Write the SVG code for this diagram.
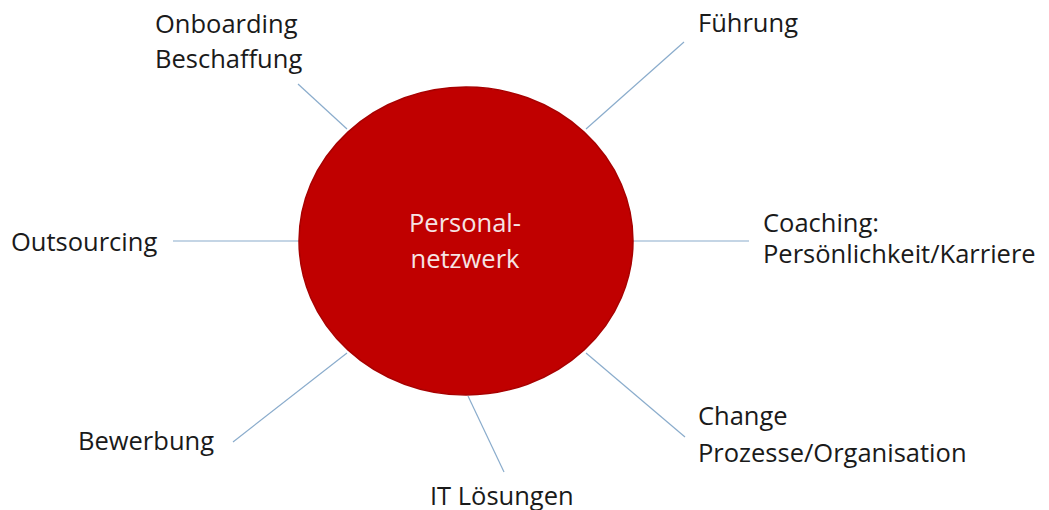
<svg xmlns="http://www.w3.org/2000/svg" width="1049" height="510" viewBox="0 0 1049 510">
<style>
.lbl{font-family:"Open Sans","Liberation Sans",sans-serif;font-size:25.5px;fill:#1a1a1a}
.ctr{font-family:"Open Sans","Liberation Sans",sans-serif;font-size:25.5px;fill:#f6e4e4;text-anchor:middle}
.con line{stroke:#8aaccc;stroke-width:1.2;fill:none}
</style>
<rect width="1049" height="510" fill="#ffffff"/>
<g id="connectors" class="con">
<line x1="298" y1="84" x2="347" y2="129"/>
<line x1="684" y1="42" x2="586" y2="129"/>
<line x1="173" y1="241" x2="300" y2="241"/>
<line x1="633" y1="241" x2="749" y2="241"/>
<line x1="233" y1="442" x2="347" y2="353"/>
<line x1="468" y1="396" x2="504" y2="472"/>
<line x1="586" y1="353" x2="685" y2="437"/>
</g>
<g id="center">
<ellipse cx="466" cy="241" rx="167" ry="154" fill="#c00000" stroke="#a80000" stroke-width="1.5"/>
<text class="ctr" x="465" y="232">Personal-</text>
<text class="ctr" x="465" y="268">netzwerk</text>
</g>
<g id="onboarding"><text class="lbl" x="155" y="33">Onboarding</text><text class="lbl" x="155" y="68">Beschaffung</text></g>
<g id="fuehrung"><text class="lbl" x="698" y="32">Führung</text></g>
<g id="outsourcing"><text class="lbl" x="11" y="251">Outsourcing</text></g>
<g id="coaching"><text class="lbl" x="763" y="232">Coaching:</text><text class="lbl" x="763" y="263">Persönlichkeit/Karriere</text></g>
<g id="bewerbung"><text class="lbl" x="78" y="450">Bewerbung</text></g>
<g id="it"><text class="lbl" x="430" y="505">IT Lösungen</text></g>
<g id="change"><text class="lbl" x="698" y="425">Change</text><text class="lbl" x="698" y="462">Prozesse/Organisation</text></g>
</svg>
